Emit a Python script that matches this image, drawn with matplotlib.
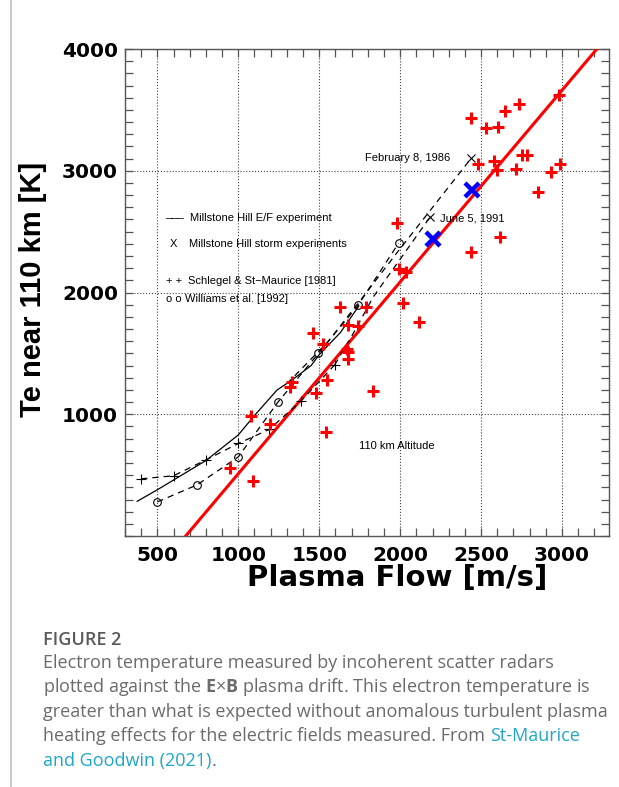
import matplotlib
matplotlib.use("Agg")
import matplotlib.pyplot as plt
from matplotlib.lines import Line2D
from matplotlib.ticker import MultipleLocator

# --- DATA ---
# red crosses: measured Te vs plasma flow
red_x = [951, 1090, 1080, 1195, 1320, 1332, 1483, 1545, 1543, 1462, 1526,
         1626, 1789, 1675, 1741, 1670, 1678, 1675, 1834, 1978, 1990, 2035,
         2017, 2115, 2440, 2618, 2435, 2532, 2604, 2649, 2737, 2979, 2480,
         2579, 2597, 2713, 2750, 2785, 2934, 2990, 2854]
red_y = [556, 452, 984, 920, 1225, 1262, 1175, 1278, 852, 1666, 1575,
         1879, 1879, 1730, 1723, 1535, 1510, 1450, 1191, 2569, 2191, 2167,
         1910, 1756, 2336, 2454, 3437, 3355, 3363, 3487, 3547, 3624, 3054,
         3084, 3007, 3016, 3128, 3128, 2988, 3059, 2824]

# red straight line
fit_x = [675, 3215]
fit_y = [0, 4000]

# blue storm points
blue_x = [2205, 2445]
blue_y = [2440, 2843]

# Millstone Hill E/F experiment (solid)
ef_x = [375, 500, 600, 800, 1000, 1100, 1240, 1330, 1450, 1500, 1630, 1745]
ef_y = [285, 380, 460, 620, 830, 990, 1200, 1280, 1400, 1490, 1670, 1890]

# Schlegel & St-Maurice [1981] (dashed, +)
sch_x = [400, 600, 800, 1000, 1190, 1385, 1595]
sch_y = [470, 495, 625, 760, 875, 1105, 1405]

# Williams et al. [1992] (dashed, o)
wil_x = [500, 745, 1000, 1245, 1495, 1740, 1990]
wil_y = [280, 420, 650, 1100, 1500, 1895, 2405]

# Millstone Hill storm experiments (dashed, X at the end)
jun_x = [1595, 1700, 1835, 2185]
jun_y = [1405, 1640, 1966, 2620]
feb_x = [1300, 1550, 1772, 1978, 2440]
feb_y = [1250, 1590, 1966, 2323, 3105]

x_ticks = [500, 1000, 1500, 2000, 2500, 3000]
y_ticks = [1000, 2000, 3000, 4000]

# --- FIGURE ---
fig = plt.figure(figsize=(6.19, 7.87), dpi=100)
ax = fig.add_axes([0.2019, 0.3189, 0.7819, 0.6188])

dash = (0, (5, 4))
ax.plot(fit_x, fit_y, color="#ff0000", lw=2.2, zorder=3)
ax.plot(ef_x, ef_y, color="black", lw=0.9, zorder=4)
ax.plot(sch_x, sch_y, color="black", lw=0.9, ls=dash, marker="+", ms=7,
        mew=0.8, zorder=4)
ax.plot(wil_x, wil_y, color="black", lw=0.9, ls=dash, marker="o", ms=5.5,
        mfc="none", mew=0.8, zorder=4)
ax.plot(jun_x, jun_y, color="black", lw=0.9, ls=dash, zorder=4)
ax.plot(feb_x, feb_y, color="black", lw=0.9, ls=dash, zorder=4)
ax.plot([jun_x[-1], feb_x[-1]], [jun_y[-1], feb_y[-1]], ls="none",
        marker="x", ms=6, mew=0.8, color="black", zorder=5)
ax.plot(red_x, red_y, ls="none", marker="+", ms=8, mew=2.2,
        color="#ff0000", zorder=5)
ax.plot(blue_x, blue_y, ls="none", marker="x", ms=10, mew=3.2,
        color="#0000ff", zorder=6)

# annotations
small = dict(fontsize=8, family="Liberation Sans", color="black")
ax.text(2312, 3106, "February 8, 1986", ha="right", va="center", **small)
ax.text(2244, 2610, "June 5, 1991", ha="left", va="center", **small)
ax.text(1748, 742, "110 km Altitude", ha="left", va="center", **small)

ax.text(551, 2640, "___", ha="left", va="center", **small)
ax.text(699, 2613, "Millstone Hill E/F experiment", ha="left", va="center", **small)
ax.text(601, 2400, "X", ha="center", va="center", **small)
ax.text(697, 2400, "Millstone Hill storm experiments", ha="left", va="center", **small)
ax.text(551, 2095, "+ +", ha="left", va="center", **small)
ax.text(691, 2095, "Schlegel & St\u2212Maurice [1981]", ha="left", va="center", **small)
ax.text(551, 1947, "o o", ha="left", va="center", **small)
ax.text(668, 1947, "Williams et al. [1992]", ha="left", va="center", **small)

# axes styling
ax.set_xlim(300, 3290)
ax.set_ylim(0, 4000)
ax.set_xticks(x_ticks)
ax.set_yticks(y_ticks)
ax.xaxis.set_minor_locator(MultipleLocator(100))
ax.yaxis.set_minor_locator(MultipleLocator(100))
ax.tick_params(which="both", direction="in", top=True, right=True,
               length=6, width=0.9, color="#555555")
ax.tick_params(axis="x", pad=7)
ax.tick_params(axis="y", pad=5)
for lab in ax.get_xticklabels() + ax.get_yticklabels():
    lab.set_fontfamily("DejaVu Sans")
    lab.set_fontweight("bold")
    lab.set_fontsize(14.5)
for sp in ax.spines.values():
    sp.set_color("#555555")
    sp.set_linewidth(1.0)
ax.grid(True, which="major", ls=":", color="#444444", lw=0.8)

ax.set_xlabel("Plasma Flow [m/s]", fontsize=21, fontweight="bold",
              family="DejaVu Sans", va="center")
ax.xaxis.set_label_coords(0.562, -0.086)
ax.set_ylabel("Te near 110 km [K]", fontsize=21, fontweight="bold",
              family="Liberation Sans", va="center")
ax.yaxis.set_label_coords(-0.19, 0.507)

# left border line of the panel
fig.add_artist(Line2D([11 / 619, 11 / 619], [0, 1], transform=fig.transFigure,
                      color="#cccccc", lw=1.5))

# caption
cap = fig.add_axes([0, 0, 1, 1])
cap.axis("off")
cap.set_xlim(0, 619)
cap.set_ylim(787, 0)
grey = "#6b6b6b"
teal = "#1fa6c8"
plt.rcParams["mathtext.fontset"] = "custom"
plt.rcParams["mathtext.rm"] = "Open Sans"
plt.rcParams["mathtext.bf"] = "Open Sans:bold"
cap_size = 13
cf = dict(family="Open Sans", fontsize=cap_size, va="baseline", ha="left")
cap.text(43, 645, "FIGURE 2", family="Open Sans", fontsize=13, fontweight="semibold",
         color="#5a5a5a", va="baseline")
lines = [
    "Electron temperature measured by incoherent scatter radars",
    r"plotted against the $\mathbf{E}{\times}\mathbf{B}$ plasma drift. This electron temperature is",
    "greater than what is expected without anomalous turbulent plasma",
]
base = 668
step = 24.4
for i, ln in enumerate(lines):
    cap.text(43, base + i * step, ln, color=grey, **cf)
t4 = cap.text(43, base + 3 * step, "heating effects for the electric fields measured. From ",
              color=grey, **cf)
cap.annotate("St-Maurice", xy=(1, 0), xycoords=t4, va="bottom", ha="left",
             color=teal, family="Open Sans", fontsize=cap_size)
t5 = cap.text(43, base + 4 * step, "and Goodwin (2021)", color=teal, **cf)
cap.annotate(".", xy=(1, 0), xycoords=t5, va="bottom", ha="left",
             color=grey, family="Open Sans", fontsize=cap_size)

fig.savefig("out.png", dpi=100)
